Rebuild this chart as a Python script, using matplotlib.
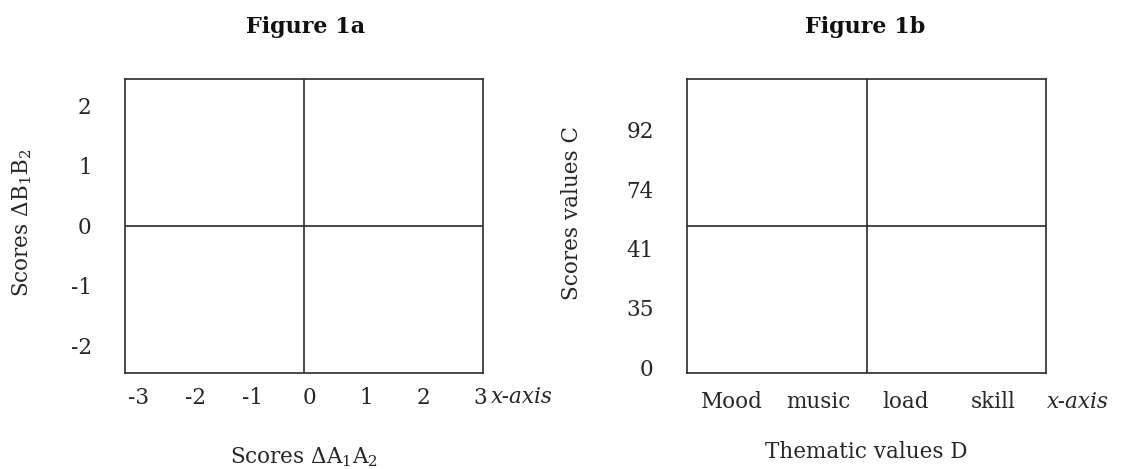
import matplotlib
matplotlib.use("Agg")
import matplotlib.pyplot as plt

# ---- data ----
x_ticks_a = [-3, -2, -1, 0, 1, 2, 3]
y_ticks_a = [-2, -1, 0, 1, 2]
categories_b = ["Mood", "music", "load", "skill"]
y_labels_b = ["0", "35", "41", "74", "92"]

title_a = "Figure 1a"
title_b = "Figure 1b"
xlabel_a = r"Scores $\Delta\mathrm{A}_1\mathrm{A}_2$"
ylabel_a = r"Scores $\Delta\mathrm{B}_1\mathrm{B}_2$"
xlabel_b = "Thematic values D"
ylabel_b = "Scores values C"
axis_word = "x-axis"

plt.rcParams["font.family"] = ["DejaVu Serif"]
plt.rcParams["mathtext.fontset"] = "dejavuserif"
FS = 15.5
LC = "#2a2a2a"
TC = "#262626"
LW = 1.2

W, H = 1123, 469
fig = plt.figure(figsize=(W / 100, H / 100), dpi=100)

def px_axes(x0, x1, y0, y1):
    return fig.add_axes([x0 / W, 1 - y1 / H, (x1 - x0) / W, (y1 - y0) / H])

axA = px_axes(125, 483, 79, 373)
axB = px_axes(687, 1046, 79, 373)

for ax in (axA, axB):
    for s in ax.spines.values():
        s.set_color(LC)
        s.set_linewidth(LW)
    ax.plot([0.5, 0.5], [0, 1], transform=ax.transAxes, color=LC, lw=LW)
    ax.plot([0, 1], [0.5, 0.5], transform=ax.transAxes, color=LC, lw=LW)
    ax.tick_params(length=0, labelsize=FS, colors=TC)

# Panel a
axA.set_xlim(-3.23, 3.05)
axA.set_ylim(-2.45, 2.45)
axA.set_xticks(x_ticks_a)
axA.set_xticklabels([str(v) for v in x_ticks_a])
axA.set_yticks(y_ticks_a)
axA.set_yticklabels([str(v) for v in y_ticks_a])
axA.tick_params(axis="x", pad=10)
axA.tick_params(axis="y", pad=24)

# Panel b
axB.set_xlim(-0.51, 3.61)
axB.set_ylim(-0.1, 4.86)
axB.set_xticks(range(len(categories_b)))
axB.set_xticklabels(categories_b)
axB.set_yticks(range(len(y_labels_b)))
axB.set_yticklabels(y_labels_b)
axB.tick_params(axis="x", pad=13)
axB.tick_params(axis="y", pad=24)

# "x-axis" words
fig.text(491 / W, 1 - 397 / H, axis_word, style="italic", fontsize=FS,
         ha="left", va="center", color=TC)
fig.text(1047 / W, 1 - 402 / H, axis_word, style="italic", fontsize=FS,
         ha="left", va="center", color=TC)

# titles
fig.text(306 / W, 1 - 27 / H, title_a, fontsize=16, fontweight="bold",
         ha="center", va="center", color="#111111")
fig.text(865 / W, 1 - 27 / H, title_b, fontsize=16, fontweight="bold",
         ha="center", va="center", color="#111111")

# axis labels
fig.text(304 / W, 1 - 457 / H, xlabel_a, fontsize=FS, ha="center", va="center",
         color=TC)
fig.text(866 / W, 1 - 452 / H, xlabel_b, fontsize=FS, ha="center", va="center",
         color=TC)
fig.text(22 / W, 1 - 223 / H, ylabel_a, fontsize=FS, rotation=90,
         ha="center", va="center", color=TC)
fig.text(572 / W, 1 - 213 / H, ylabel_b, fontsize=FS, rotation=90,
         ha="center", va="center", color=TC)

fig.savefig("out.png", dpi=100)
